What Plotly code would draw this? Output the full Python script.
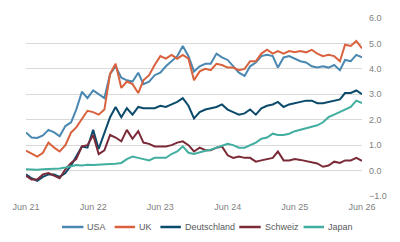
import pandas as pd
import plotly.graph_objects as go

# ---- data (monthly readings, Jun 2021 .. Jun 2026) ----
dates = pd.date_range("2021-06-01", periods=61, freq="MS")

usa = [1.5, 1.3, 1.28, 1.38, 1.6, 1.5, 1.35, 1.75, 1.9, 2.4,
       3.1, 2.85, 3.15, 3.0, 2.85, 3.8, 4.1, 3.65, 3.55, 3.5,
       3.85, 3.4, 3.5, 3.75, 3.85, 4.1, 4.3, 4.5, 4.9, 4.5,
       3.9, 4.1, 4.2, 4.2, 4.6, 4.45, 4.35, 4.1, 3.85, 3.72,
       4.1, 4.25, 4.5, 4.55, 4.5, 4.05, 4.45, 4.5, 4.4, 4.3,
       4.25, 4.1, 4.05, 4.1, 4.05, 4.15, 3.95, 4.35, 4.3, 4.55,
       4.45]
uk = [0.78, 0.65, 0.55, 0.7, 1.1, 0.9, 0.75, 1.0, 1.5, 1.7,
      2.05, 2.35, 2.3, 2.2, 2.4, 3.8, 4.2, 3.25, 3.5, 3.4,
      3.05, 3.55, 3.75, 4.15, 4.5, 4.4, 4.55, 4.4, 4.55, 4.4,
      3.55, 3.9, 4.0, 3.95, 4.2, 4.15, 4.05, 4.05, 3.95, 4.0,
      4.3, 4.3, 4.6, 4.75, 4.6, 4.7, 4.6, 4.7, 4.65, 4.7,
      4.65, 4.75, 4.6, 4.5, 4.55, 4.5, 4.3, 4.95, 4.9, 5.1,
      4.8]
de = [-0.15, -0.3, -0.4, -0.25, -0.15, -0.15, -0.25, -0.1, 0.2, 0.55,
      0.95, 0.9, 1.6, 0.85, 1.45, 2.1, 2.5, 2.1, 2.45, 2.2,
      2.5, 2.45, 2.45, 2.45, 2.55, 2.5, 2.6, 2.7, 2.85, 2.55,
      2.05, 2.3, 2.4, 2.45, 2.5, 2.6, 2.4, 2.3, 2.2, 2.25,
      2.4, 2.2, 2.45, 2.55, 2.6, 2.7, 2.5, 2.6, 2.65, 2.7,
      2.75, 2.75, 2.65, 2.65, 2.7, 2.75, 2.8, 3.05, 3.05, 3.15,
      3.0]
ch = [-0.2, -0.35, -0.35, -0.15, -0.1, -0.2, -0.3, 0.05, 0.3, 0.45,
      0.95, 1.0, 1.4, 0.65, 0.8, 1.4, 1.3, 1.15, 1.6, 1.25,
      1.55, 1.1, 1.05, 0.95, 0.95, 0.95, 1.0, 1.1, 1.15, 1.0,
      0.75, 0.9, 0.8, 0.8, 0.9, 0.95, 0.6, 0.5, 0.55, 0.5,
      0.5, 0.35, 0.4, 0.45, 0.5, 0.75, 0.4, 0.4, 0.45, 0.42,
      0.37, 0.35, 0.28, 0.15, 0.2, 0.35, 0.3, 0.4, 0.4, 0.5,
      0.38]
jp = [0.05, 0.03, 0.03, 0.05, 0.06, 0.07, 0.08, 0.12, 0.18, 0.22,
      0.2, 0.23, 0.22, 0.24, 0.25, 0.26, 0.27, 0.3, 0.45, 0.55,
      0.5, 0.45, 0.4, 0.5, 0.5, 0.5, 0.65, 0.75, 0.95, 0.7,
      0.65, 0.72, 0.78, 0.82, 0.9, 1.0, 1.05, 1.0, 0.9, 0.9,
      1.0, 1.1, 1.25, 1.3, 1.45, 1.4, 1.4, 1.45, 1.55, 1.6,
      1.65, 1.72, 1.78, 1.9, 2.1, 2.2, 2.3, 2.4, 2.5, 2.75,
      2.65]

names = ["USA", "UK", "Deutschland", "Schweiz", "Japan"]
series = [usa, uk, de, ch, jp]
colors = ["#4a87b1", "#d9613d", "#0b4a6b", "#7b2b38", "#42ae9f"]

# ---- layout constants ----
W, H = 400, 242
ML, MR, MT, MB = 17, 38, 18, 46
PW, PH = W - ML - MR, H - MT - MB
FONT = "Liberation Sans, Arial, sans-serif"


def px_x(px):
    return (px - ML) / PW


def px_y(py):
    return (H - MB - py) / PH


fig = go.Figure()
for name, vals, col in zip(names, series, colors):
    fig.add_trace(go.Scatter(x=dates, y=vals, name=name, mode="lines",
                             line=dict(color=col, width=2)))

# custom legend (short line swatches like the reference)
legend_pos = [(54, 76, 78), (108, 129, 131), (155, 176, 178),
              (236, 258, 260), (302, 323, 325)]
shapes, annos = [], []
ly = 227
for (x0, x1, xt), name, col in zip(legend_pos, names, colors):
    shapes.append(dict(type="line", xref="paper", yref="paper",
                       x0=px_x(x0), x1=px_x(x1), y0=px_y(ly), y1=px_y(ly),
                       line=dict(color=col, width=2.5)))
    annos.append(dict(xref="paper", yref="paper", x=px_x(xt), y=px_y(ly),
                      text=name, showarrow=False, xanchor="left",
                      yanchor="middle",
                      font=dict(family=FONT, size=9, color="#595959")))

fig.update_layout(
    width=W, height=H,
    margin=dict(l=ML, r=MR, t=MT, b=MB, pad=0),
    paper_bgcolor="white", plot_bgcolor="white",
    showlegend=False,
    shapes=shapes, annotations=annos,
    font=dict(family=FONT, size=9, color="#7f7f7f"),
)
fig.update_xaxes(
    range=["2021-06-01", "2026-06-01"],
    tick0="2021-06-01", dtick="M12", tickformat="%b %y",
    showgrid=False, zeroline=False, showline=False, ticks="",
    ticklabelstandoff=4,
    tickfont=dict(family=FONT, size=9, color="#7f7f7f"),
)
fig.update_yaxes(
    side="right", range=[-1, 6], dtick=1, tickformat=".1f",
    showgrid=True, gridcolor="#d9d9d9", gridwidth=1,
    zeroline=False, showline=False, ticks="",
    ticklabelstandoff=6,
    tickfont=dict(family=FONT, size=9, color="#7f7f7f"),
)

fig.write_html("out.html")
